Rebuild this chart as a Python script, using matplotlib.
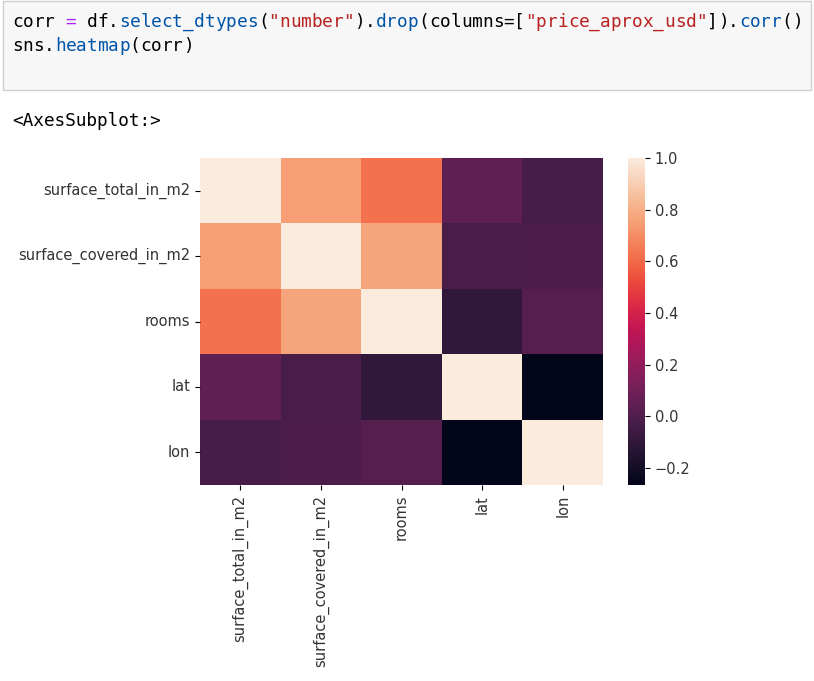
import numpy as np
import matplotlib
matplotlib.use("Agg")
import matplotlib.pyplot as plt
from matplotlib.patches import Rectangle
import seaborn as sns

labels = ["surface_total_in_m2", "surface_covered_in_m2", "rooms", "lat", "lon"]
corr = np.array([
    [1.00, 0.75, 0.62, 0.05, -0.03],
    [0.75, 1.00, 0.77, -0.02, -0.01],
    [0.62, 0.77, 1.00, -0.10, 0.02],
    [0.05, -0.02, -0.10, 1.00, -0.266],
    [-0.03, -0.01, 0.02, -0.266, 1.00],
])

W, H = 814, 681
fig = plt.figure(figsize=(W/100, H/100), dpi=100)

# code cell
fig.add_artist(Rectangle((3/W, 1-90/H), 808/W, 89/H, transform=fig.transFigure,
                         facecolor="#f7f7f7", edgecolor="#cfcfcf", lw=1))
cw = 10.69
def code(segs, y):
    i = 0
    for s, c in segs:
        for ch in s:
            fig.text((12 + i*cw)/W, 1-y/H, ch, family="DejaVu Sans Mono", fontsize=12.8,
                     color=c, va="center", ha="left")
            i += 1
k, g, b, r = "#000000", "#AA22FF", "#0055AA", "#BA2121"
code([("corr ", k), ("=", g), (" df.", k), ("select_dtypes", b), ("(", k), ('"number"', r),
      (").", k), ("drop", b), ("(columns=[", k), ('"price_aprox_usd"', r), ("]).", k),
      ("corr", b), ("()", k)], 22)
code([("sns.", k), ("heatmap", b), ("(corr)", k)], 46)
fig.text(12/W, 1-121/H, "<AxesSubplot:>", family="DejaVu Sans Mono", fontsize=12.8, va="center")

ax = fig.add_axes([200/W, 1-485/H, 403/W, 327/H])
cax = fig.add_axes([628/W, 1-485/H, 17/W, 327/H])
sns.heatmap(corr, ax=ax, cbar_ax=cax, vmin=-0.266, vmax=1.0,
            xticklabels=labels, yticklabels=labels)
ax.tick_params(labelsize=10.5, labelcolor="#333333")
cax.tick_params(labelsize=10.5, labelcolor="#333333")
ax.set_xticklabels(labels, rotation=90)
ax.set_yticklabels(labels, rotation=0)
fig.savefig("out.png", dpi=100)
